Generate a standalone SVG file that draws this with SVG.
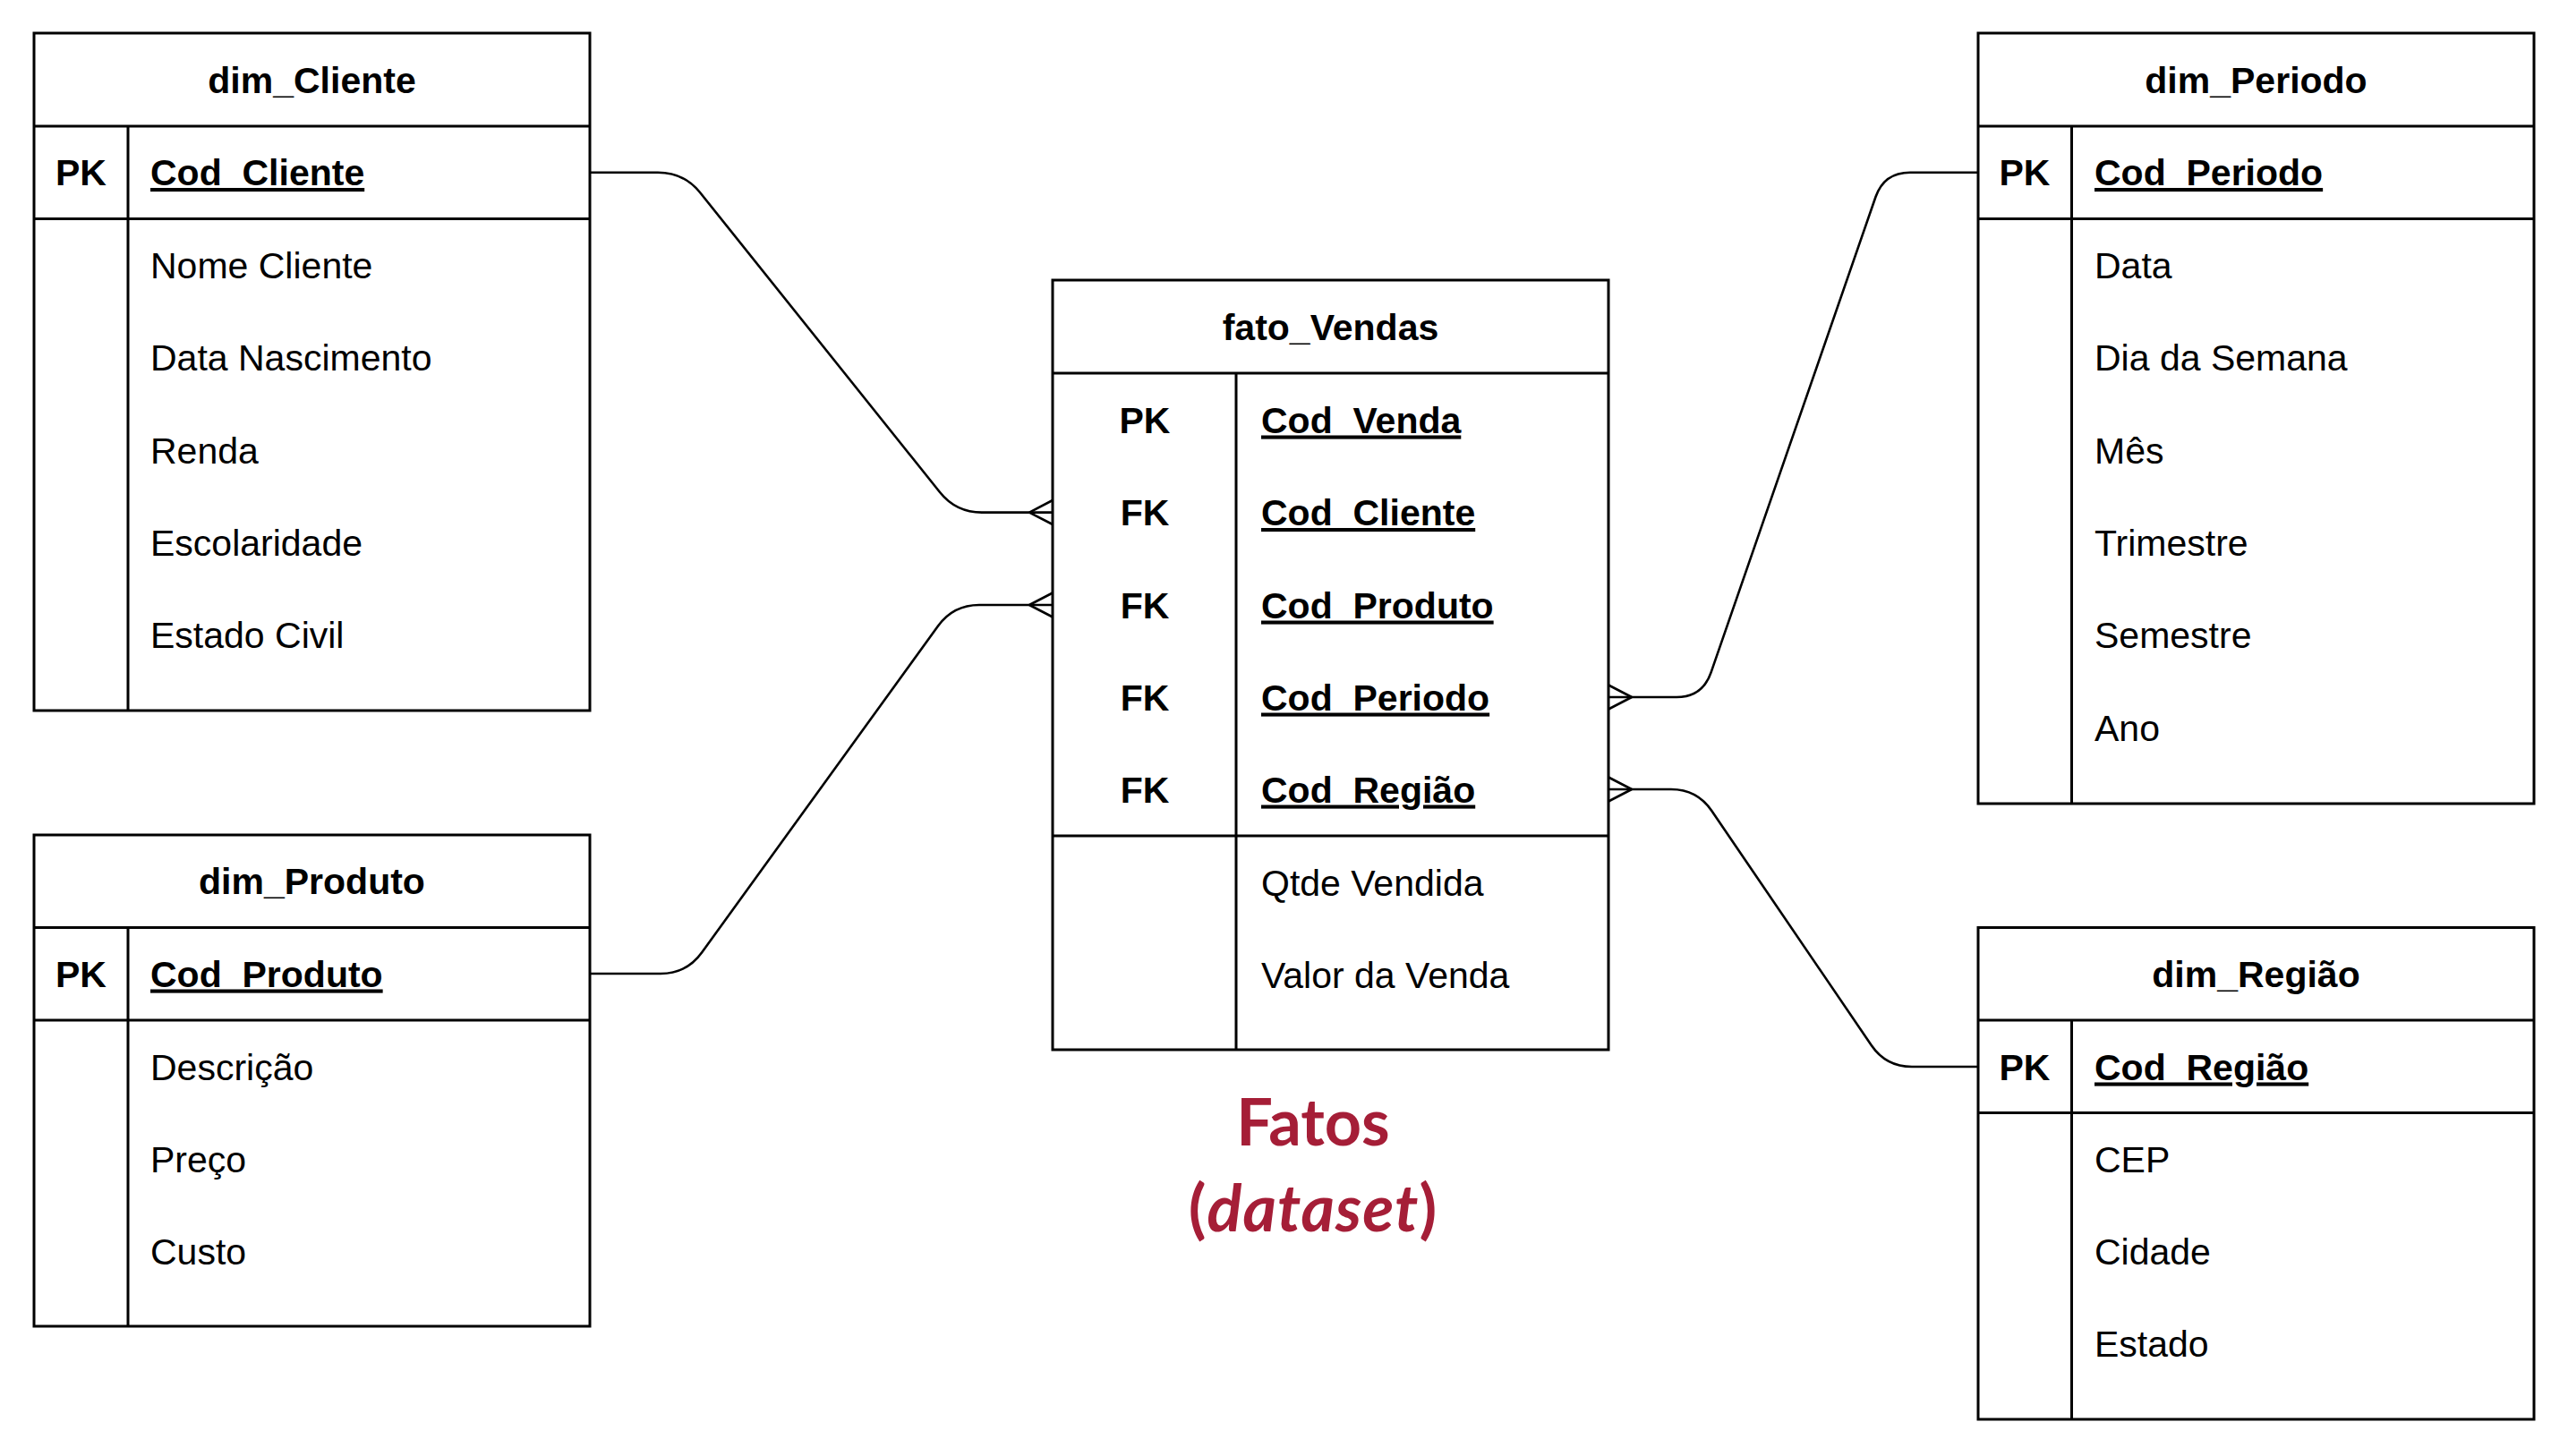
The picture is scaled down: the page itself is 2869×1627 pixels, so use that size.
<svg xmlns="http://www.w3.org/2000/svg" width="2869" height="1627" viewBox="0 0 2869 1627">
<style>
.box{fill:#fff;stroke:#000;stroke-width:3}
.ln{stroke:#000;stroke-width:3;fill:none}
.t{font-family:"Liberation Sans",Arial,Helvetica,sans-serif;font-size:41px;fill:#000}
.b{font-weight:bold}
.u{font-weight:bold;text-decoration:underline}
.c{text-anchor:middle}
.con{stroke:#000;stroke-width:2.6;fill:none}
.big{font-family:Lato,"Open Sans",sans-serif;font-weight:bold;font-size:72px;fill:#A51E37;text-anchor:middle}
</style>
<rect width="2869" height="1627" fill="#fff"/>
<g id="connectors">
<path class="con" d="M659,192.7 L735,192.7 Q764,192.7 782,215 L1050,550 Q1068,572.6 1097,572.6 L1176,572.6"/>
<path class="con" d="M1150,572.6 L1176,559 M1150,572.6 L1176,586"/>
<path class="con" d="M659,1088 L738,1088 Q767,1088 784,1064.5 L1048,699.5 Q1065,676 1094,676 L1176,676"/>
<path class="con" d="M1150,676 L1176,662.5 M1150,676 L1176,689.5"/>
<path class="con" d="M1797,779 L1873,779 Q1902,779 1911.5,751.6 L2095.5,220 Q2105,192.7 2134,192.7 L2210,192.7"/>
<path class="con" d="M1823,779 L1797,765.5 M1823,779 L1797,792.5"/>
<path class="con" d="M1797,882 L1867,882 Q1896,882 1912.3,906 L2090.7,1168 Q2107,1192 2136,1192 L2210,1192"/>
<path class="con" d="M1823,882 L1797,868.5 M1823,882 L1797,895.5"/>
</g>
<g id="dim_Cliente">
<rect class="box" x="38" y="37" width="621" height="757"/>
<path class="ln" d="M38,141 H659 M38,244.4 H659 M143,141 V794"/>
<text class="t b c" x="348.5" y="103.5">dim_Cliente</text>
<text class="t b c" x="90.5" y="207">PK</text>
<text class="t u" x="168" y="207">Cod_Cliente</text>
<text class="t" x="168" y="310.5">Nome Cliente</text>
<text class="t" x="168" y="414">Data Nascimento</text>
<text class="t" x="168" y="517.5">Renda</text>
<text class="t" x="168" y="620.5">Escolaridade</text>
<text class="t" x="168" y="724">Estado Civil</text>
</g>
<g id="dim_Produto">
<rect class="box" x="38" y="933" width="621" height="549"/>
<path class="ln" d="M38,1036.5 H659 M38,1140 H659 M143,1036.5 V1482"/>
<text class="t b c" x="348.5" y="999">dim_Produto</text>
<text class="t b c" x="90.5" y="1102.5">PK</text>
<text class="t u" x="168" y="1102.5">Cod_Produto</text>
<text class="t" x="168" y="1206.5">Descrição</text>
<text class="t" x="168" y="1309.5">Preço</text>
<text class="t" x="168" y="1413">Custo</text>
</g>
<g id="fato_Vendas">
<rect class="box" x="1176" y="313" width="621" height="860"/>
<path class="ln" d="M1176,417 H1797 M1176,934 H1797 M1381,417 V1173"/>
<text class="t b c" x="1486.5" y="379.5">fato_Vendas</text>
<text class="t b c" x="1279" y="483.5">PK</text>
<text class="t b c" x="1279" y="587">FK</text>
<text class="t b c" x="1279" y="690.5">FK</text>
<text class="t b c" x="1279" y="793.5">FK</text>
<text class="t b c" x="1279" y="896.5">FK</text>
<text class="t u" x="1409" y="483.5">Cod_Venda</text>
<text class="t u" x="1409" y="587">Cod_Cliente</text>
<text class="t u" x="1409" y="690.5">Cod_Produto</text>
<text class="t u" x="1409" y="793.5">Cod_Periodo</text>
<text class="t u" x="1409" y="896.5">Cod_Região</text>
<text class="t" x="1409" y="1000.5">Qtde Vendida</text>
<text class="t" x="1409" y="1103.5">Valor da Venda</text>
</g>
<g id="dim_Periodo">
<rect class="box" x="2210" y="37" width="621" height="861"/>
<path class="ln" d="M2210,141 H2831 M2210,244.4 H2831 M2314.5,141 V898"/>
<text class="t b c" x="2520.5" y="103.5">dim_Periodo</text>
<text class="t b c" x="2262" y="207">PK</text>
<text class="t u" x="2340" y="207">Cod_Periodo</text>
<text class="t" x="2340" y="310.5">Data</text>
<text class="t" x="2340" y="414">Dia da Semana</text>
<text class="t" x="2340" y="517.5">Mês</text>
<text class="t" x="2340" y="620.5">Trimestre</text>
<text class="t" x="2340" y="724">Semestre</text>
<text class="t" x="2340" y="827.5">Ano</text>
</g>
<g id="dim_Regiao">
<rect class="box" x="2210" y="1036.5" width="621" height="549.5"/>
<path class="ln" d="M2210,1140 H2831 M2210,1243.5 H2831 M2314.5,1140 V1586"/>
<text class="t b c" x="2520.5" y="1102.5">dim_Região</text>
<text class="t b c" x="2262" y="1206.5">PK</text>
<text class="t u" x="2340" y="1206.5">Cod_Região</text>
<text class="t" x="2340" y="1309.5">CEP</text>
<text class="t" x="2340" y="1413">Cidade</text>
<text class="t" x="2340" y="1516">Estado</text>
</g>
<g id="label_fatos">
<text class="big" x="1467" y="1280">Fatos</text>
<text class="big" x="1467" y="1376" font-size="80" letter-spacing="1">(<tspan font-style="italic">dataset</tspan>)</text>
</g>
</svg>
